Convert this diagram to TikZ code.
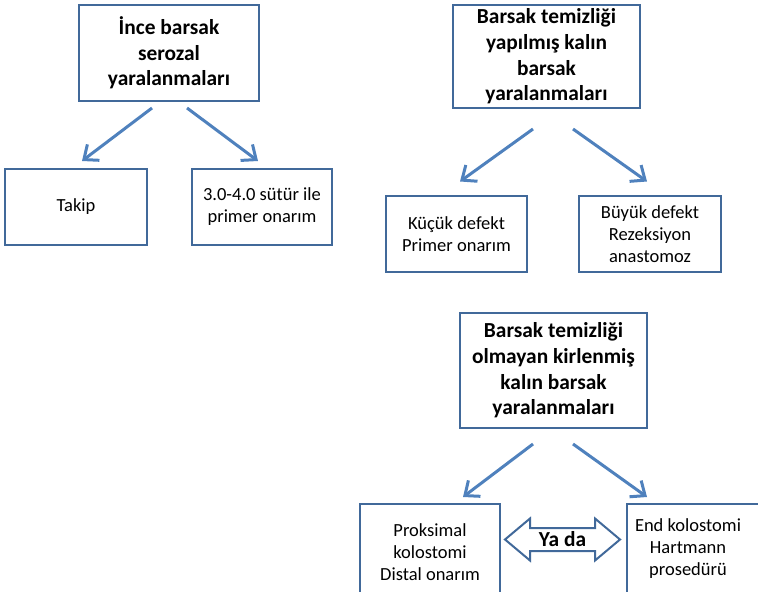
\documentclass[tikz,border=0pt]{standalone}
\usepackage{fontspec}
\setmainfont{Carlito}
\usepackage{xcolor}
\usetikzlibrary{calc, arrows.meta}
\definecolor{boxblue}{HTML}{41699A}
\definecolor{arrowblue}{HTML}{4F81BD}
\tikzset{
  headtext/.style={align=center, inner sep=0pt, font=\fontsize{10.7}{12.8}\selectfont\bfseries},
  leaftext/.style={align=center, inner sep=0pt, font=\fontsize{9.25}{11}\selectfont},
  headbox/.style={headtext, draw=boxblue, line width=1pt},
  leafbox/.style={leaftext, draw=boxblue, line width=1pt, minimum width=71pt, minimum height=38pt},
  branch/.style={draw=arrowblue, line width=1.5pt, -{Straight Barb[length=6pt, width=10pt]}},
}

\begin{document}
\begin{tikzpicture}[x=0.5pt, y=-0.5pt]
    \useasboundingbox (0,0) rectangle (758,592);
    \clip (0,0) rectangle (758,592);

    % ince barsak
    \node[headbox, minimum width=90pt, minimum height=48pt] (ince) at (169,53) {İnce barsak\\serozal\\yaralanmaları};
    \node[leafbox] (takip) at (76,207) {Takip};
    \node[leafbox, minimum width=70pt] (sutur) at (262,207) {3.0-4.0 sütür ile\\primer onarım};
    \draw[branch] ($(ince.south)+(-17,6)$) -- ($(takip.north)+(6,-7)$);
    \draw[branch] ($(ince.south)+(18,6)$) -- ($(sutur.north)+(-4,-7)$);

    % temizlik yapilmis
    \node[headbox, minimum width=93.5pt, minimum height=51.5pt] (temiz) at (546.5,56.5) {Barsak temizliği\\yapılmış kalın\\barsak\\yaralanmaları};
    \node[leafbox, minimum width=70.5pt] (kucuk) at (456.5,234.5) {Küçük defekt\\Primer onarım};
    \node[leafbox] (buyuk) at (650,234.5) {Büyük defekt\\Rezeksiyon\\anastomoz};
    \draw[branch] ($(temiz.south)+(-13.5,20)$) -- ($(kucuk.north)+(3.5,-14)$);
    \draw[branch] ($(temiz.south)+(26.5,20)$) -- ($(buyuk.north)+(-3,-14)$);

    % temizlik olmayan
    \node[headbox, minimum width=93.5pt, minimum height=57.5pt] (kirli) at (553.5,370.5) {Barsak temizliği\\olmayan kirlenmiş\\kalın barsak\\yaralanmaları};
    \node[leafbox, minimum width=70pt, minimum height=48pt, anchor=north west] (proks) at (359,503) {Proksimal\\kolostomi\\Distal onarım};
    \node[leafbox, minimum height=48pt, anchor=north west] (endk) at (626,503) {};
    \node[leaftext] (endktext) at (688,549) {End kolostomi\\Hartmann\\prosedürü};
    \draw[branch] ($(kirli.south)+(-20.5,15)$) -- ($(proks.north)+(33,-6)$);
    \draw[branch] ($(kirli.south)+(19.5,15)$) -- ($(endk.north west)+(21,-6)$);

    % ya da
    \coordinate (yadac) at (562.5,539.5);
    \draw[boxblue, line width=1pt, fill=white, line join=miter]
        ($(yadac)+(-57.5,0)$) -- ++(25,-21) -- ++(0,9.5) -- ++(65,0) -- ++(0,-9.5)
        -- ++(25,21) -- ++(-25,21) -- ++(0,-9.5) -- ++(-65,0) -- ++(0,9.5) -- cycle;
    \node[headtext] (yada) at (yadac) {Ya da};
\end{tikzpicture}
\end{document}
